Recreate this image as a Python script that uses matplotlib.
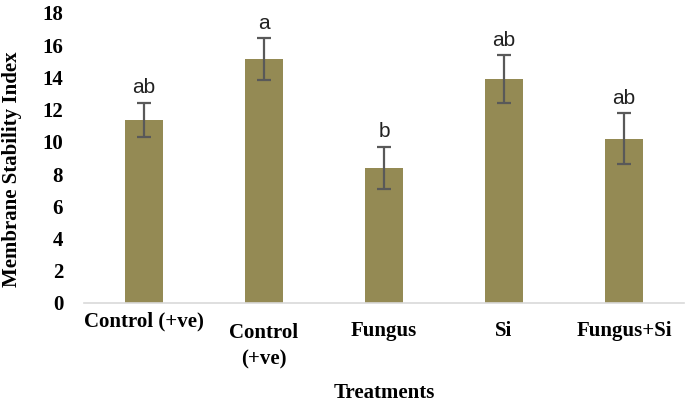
import numpy as np
import matplotlib
matplotlib.use("Agg")
import matplotlib.pyplot as plt

#%% data
treatments = ["Control (+ve)", "Control\n(+ve)", "Fungus", "Si", "Fungus+Si"]
msi = [11.35, 15.15, 8.4, 13.9, 10.2]
msi_err = [1.07, 1.28, 1.31, 1.47, 1.58]
letters = ["ab", "a", "b", "ab", "ab"]
yticks = [0, 2, 4, 6, 8, 10, 12, 14, 16, 18]

#%% figure
W, H = 685, 404
fig = plt.figure(figsize=(W / 100, H / 100), dpi=100)
# axes box in pixels: left 84, right 684, top 13, bottom 303
ax = fig.add_axes([84 / W, (H - 303) / H, 600 / W, 290 / H])

x = np.arange(len(treatments))
ax.bar(x, msi, width=0.31, color="#948A54", zorder=2)
ax.errorbar(x, msi, yerr=msi_err, fmt="none", ecolor="#595959",
            elinewidth=1.6, capsize=5, capthick=1.6, zorder=3)

for xi, v, e, lab in zip(x, msi, msi_err, letters):
    ax.annotate(lab, (xi, v + e), xytext=(0, 4), textcoords="offset points",
                ha="center", va="bottom", fontsize=15, color="#222222",
                family="Liberation Sans")

ax.set_xlim(-0.5, len(treatments) - 0.5)
ax.set_ylim(0, 18)
ax.set_yticks(yticks)
ax.set_yticklabels([str(t) for t in yticks], family="Liberation Serif",
                   fontweight="bold", fontsize=15)
ax.tick_params(axis="y", length=0, pad=15)
ax.set_xticks([])

for s in ["top", "right", "left"]:
    ax.spines[s].set_visible(False)
ax.spines["bottom"].set_color("#d9d9d9")
ax.spines["bottom"].set_linewidth(1.2)

# category labels, the first one sits higher than the others
tr = ax.get_xaxis_transform()
label_y = [-0.064, -0.148, -0.098, -0.098, -0.098]
for xi, lab, ly in zip(x, treatments, label_y):
    ax.text(xi, ly, lab, transform=tr, ha="center", va="center",
            family="Liberation Serif", fontweight="bold", fontsize=15,
            linespacing=1.45)

fig.text(384.5 / W, 1 - 393 / H, "Treatments", ha="center", va="center",
         family="Liberation Serif", fontweight="bold", fontsize=15)
fig.text(12 / W, 1 - 169 / H, "Membrane Stability Index", ha="center",
         va="center", rotation=90, family="Liberation Serif",
         fontweight="bold", fontsize=15)

fig.savefig("out.png", dpi=100)
